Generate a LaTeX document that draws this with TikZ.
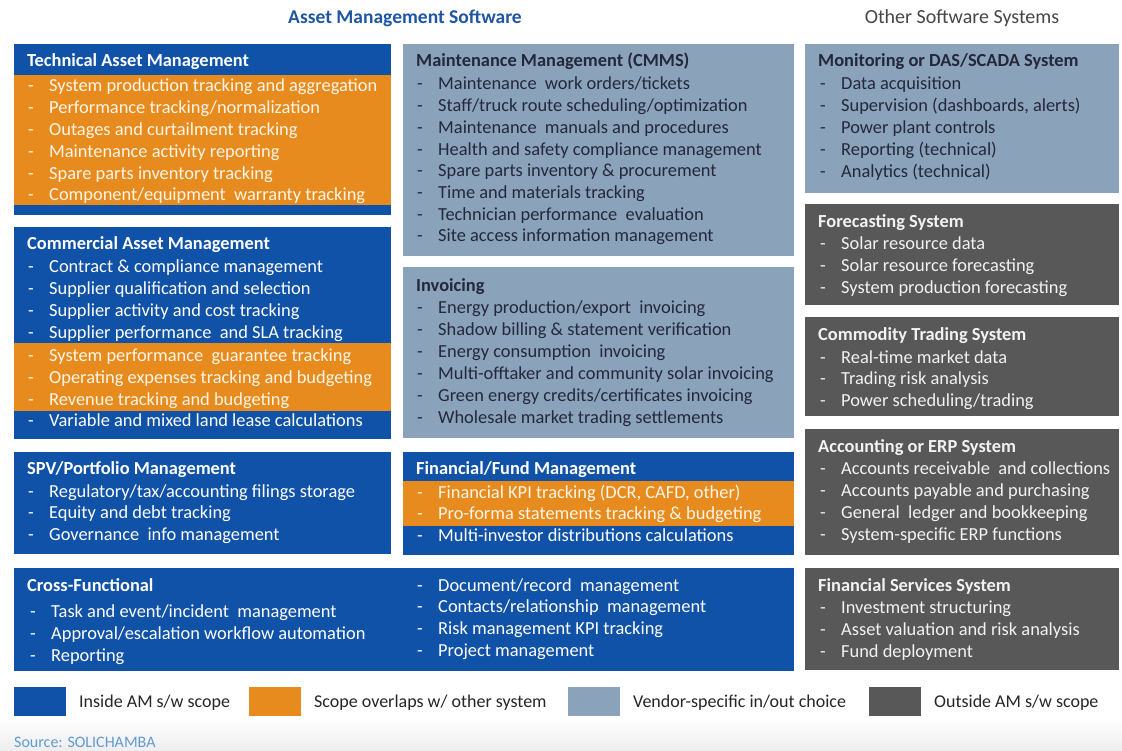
\documentclass[tikz,border=0pt]{standalone}
\usepackage{fontspec}
\setmainfont{Carlito}
\definecolor{amblue}{RGB}{16,82,168}
\definecolor{amorange}{RGB}{232,139,31}
\definecolor{amvendor}{RGB}{139,162,187}
\definecolor{amdark}{RGB}{88,88,88}
\definecolor{titleblue}{RGB}{31,86,163}
\definecolor{titlegray}{RGB}{70,70,70}
\definecolor{vtext}{RGB}{35,40,58}
\definecolor{otext}{RGB}{255,246,232}
\definecolor{dtext}{RGB}{242,242,242}
\definecolor{srcblue}{RGB}{95,155,210}
\tikzset{
  box/.style={anchor=north west,inner sep=0pt,outer sep=0pt,draw=none},
  itm/.style={anchor=base west,inner sep=0pt,font=\fontsize{18.4}{21}\selectfont},
  hdr/.style={anchor=base west,inner sep=0pt,font=\bfseries\fontsize{18.4}{21}\selectfont},
  legsq/.style={anchor=north west,inner sep=0pt,minimum width=52pt,minimum height=29pt},
  legtxt/.style={anchor=base west,inner sep=0pt,text=black!85,font=\fontsize{18}{20}\selectfont},
}
\newcommand\ambox[6]{\node[box,fill=#6,minimum width={#4-#2},minimum height={#5-#3}] (#1) at (#2,#3) {};}
\newcommand\amitems[6]{%
  \foreach \t [count=\i] in {#6}{%
    \node[itm,text=#5] (#1d\i) at (#2,{#3+6+#4*(\i-1)}) {-};
    \node[itm,text=#5] (#1t\i) at ({#2+21},{#3+6+#4*(\i-1)}) {\t};
  }}
\begin{document}
\begin{tikzpicture}[x=1pt,y=-1pt]
\useasboundingbox (0,0) rectangle (1122,751);
\fill[white] (0,0) rectangle (1122,751);
\shade[top color=white,bottom color=black!7] (0,718) rectangle (1122,751);
% titles
\node[inner sep=0pt,text=titleblue,font=\bfseries\fontsize{19.5}{22}\selectfont] (t1) at (405,18) {Asset Management Software};
\node[inner sep=0pt,text=titlegray,font=\fontsize{20}{22}\selectfont] (t2) at (962,18) {Other Software Systems};
% ---------- column 1
\ambox{tam}{14}{44}{391}{215}{amblue}
\ambox{tamo}{14}{75}{391}{205}{amorange}
\node[hdr,text=white] (tamh) at (27,67) {Technical Asset Management};
\amitems{tami}{28}{86}{21.8}{otext}{System production tracking and aggregation,Performance tracking/normalization,Outages and curtailment tracking,Maintenance activity reporting,Spare parts inventory tracking,Component/equipment\ \ warranty tracking}
\ambox{cam}{14}{227}{391}{439}{amblue}
\ambox{camo}{14}{343}{391}{411}{amorange}
\node[hdr,text=white] (camh) at (27,250) {Commercial Asset Management};
\amitems{cami}{28}{267}{21.8}{white}{Contract \& compliance management,Supplier qualification and selection,Supplier activity and cost tracking,Supplier performance\ \ and SLA tracking}
\amitems{camj}{28}{355}{22}{otext}{System performance\ \ guarantee tracking,Operating expenses tracking and budgeting,Revenue tracking and budgeting}
\amitems{camk}{28}{420}{21.8}{white}{Variable and mixed land lease calculations}
\ambox{spv}{14}{452}{391}{554}{amblue}
\node[hdr,text=white] (spvh) at (27,474) {SPV/Portfolio Management};
\amitems{spvi}{28}{491}{21.8}{white}{Regulatory/tax/accounting filings storage,Equity and debt tracking,Governance\ \ info management}
\ambox{cf}{14}{568}{794}{671}{amblue}
\node[hdr,text=white] (cfh) at (27,591) {Cross-Functional};
\amitems{cfi}{30}{611}{22}{white}{Task and event/incident\ \ management,Approval/escalation workflow automation,Reporting}
\amitems{cfj}{417}{585}{21.9}{white}{Document/record\ \ management,Contacts/relationship\ \ management,Risk management KPI tracking,Project management}
% ---------- column 2
\ambox{mm}{403}{44}{794}{256}{amvendor}
\node[hdr,text=vtext] (mmh) at (416,67) {Maintenance Management (CMMS)};
\amitems{mmi}{417}{84}{21.7}{vtext}{Maintenance\ \ work orders/tickets,Staff/truck route scheduling/optimization,Maintenance\ \ manuals and procedures,Health and safety compliance management,Spare parts inventory \& procurement,Time and materials tracking,Technician performance\ \ evaluation,Site access information management}
\ambox{inv}{403}{267}{794}{438}{amvendor}
\node[hdr,text=vtext] (invh) at (416,292) {Invoicing};
\amitems{invi}{417}{308}{21.8}{vtext}{Energy production/export\ \ invoicing,Shadow billing \& statement verification,Energy consumption\ \ invoicing,Multi-offtaker and community solar invoicing,Green energy credits/certificates invoicing,Wholesale market trading settlements}
\ambox{ffm}{403}{452}{794}{555}{amblue}
\ambox{ffmo}{403}{481}{794}{526}{amorange}
\node[hdr,text=white] (ffmh) at (416,474) {Financial/Fund Management};
\amitems{ffmi}{417}{492}{21.5}{otext}{Financial KPI tracking (DCR{,} CAFD{,} other),Pro-forma statements tracking \& budgeting}
\amitems{ffmj}{417}{535}{21.5}{white}{Multi-investor distributions calculations}
% ---------- column 3
\ambox{mon}{805}{44}{1119}{193}{amvendor}
\node[hdr,text=vtext] (monh) at (818,67) {Monitoring or DAS/SCADA System};
\amitems{moni}{820}{84}{21.8}{vtext}{Data acquisition,Supervision (dashboards{,} alerts),Power plant controls,Reporting (technical),Analytics (technical)}
\ambox{fc}{805}{204}{1119}{305}{amdark}
\node[hdr,text=dtext] (fch) at (818,228) {Forecasting System};
\amitems{fci}{820}{244}{22}{dtext}{Solar resource data,Solar resource forecasting,System production forecasting}
\ambox{ct}{805}{317}{1119}{416}{amdark}
\node[hdr,text=dtext] (cth) at (818,341) {Commodity Trading System};
\amitems{cti}{820}{357}{21.7}{dtext}{Real-time market data,Trading risk analysis,Power scheduling/trading}
\ambox{erp}{805}{429}{1119}{555}{amdark}
\node[hdr,text=dtext] (erph) at (818,452) {Accounting or ERP System};
\amitems{erpi}{820}{468}{22}{dtext}{Accounts receivable\ \ and collections,Accounts payable and purchasing,General\ \ ledger and bookkeeping,System-specific ERP functions}
\ambox{fs}{805}{568}{1119}{670}{amdark}
\node[hdr,text=dtext] (fsh) at (818,591) {Financial Services System};
\amitems{fsi}{820}{607}{22}{dtext}{Investment structuring,Asset valuation and risk analysis,Fund deployment}
% ---------- legend
\node[legsq,fill=amblue] (l1) at (14,687) {};
\node[legtxt] (l1t) at (79,707) {Inside AM s/w scope};
\node[legsq,fill=amorange] (l2) at (249,687) {};
\node[legtxt] (l2t) at (314,707) {Scope overlaps w/ other system};
\node[legsq,fill=amvendor] (l3) at (568,687) {};
\node[legtxt] (l3t) at (633,707) {Vendor-specific in/out choice};
\node[legsq,fill=amdark] (l4) at (869,687) {};
\node[legtxt] (l4t) at (934,707) {Outside AM s/w scope};
\node[anchor=base west,inner sep=0pt,text=srcblue,font=\fontsize{16}{18}\selectfont] (src) at (14,747) {Source: SOLICHAMBA};
\end{tikzpicture}
\end{document}
